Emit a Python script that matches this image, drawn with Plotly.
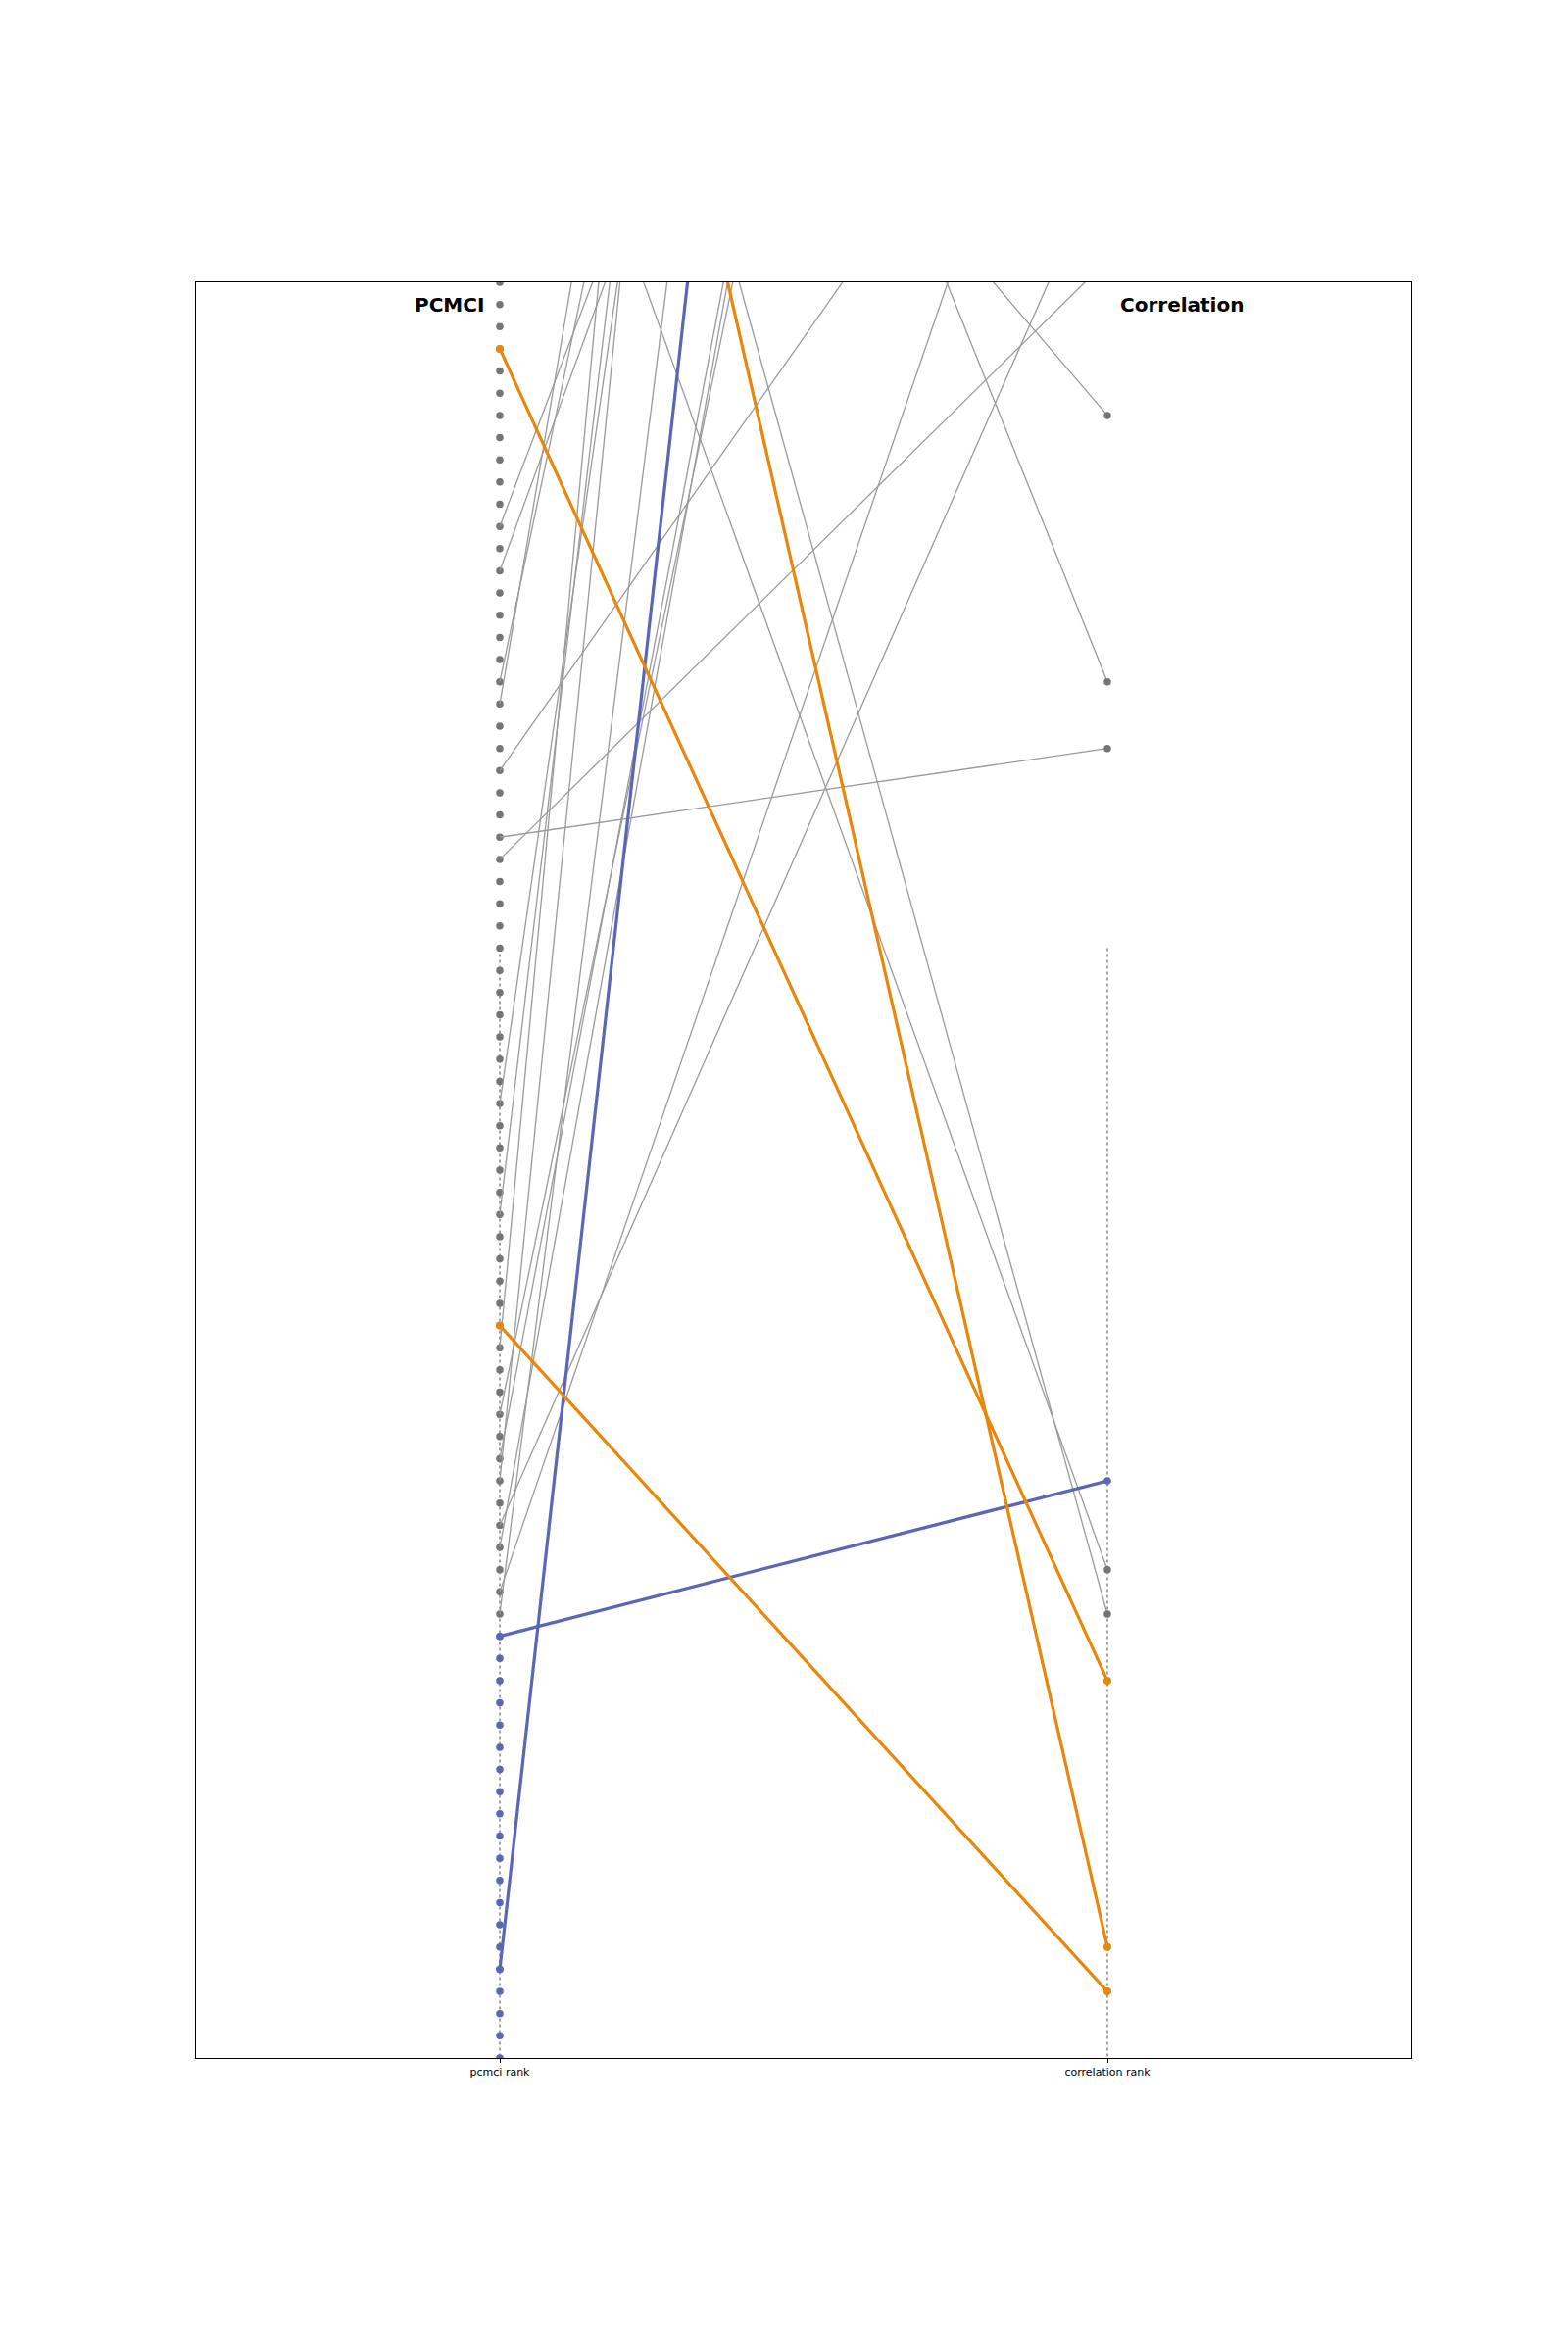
import plotly.graph_objects as go

# ---- data (ranks; y axis reversed, only ranks 260..340 visible) ----
# all pcmci rank positions visible on the left column
gray_left_ranks = list(range(260, 321))
blue_left_ranks = list(range(321, 341))

# gray links: pcmci rank -> correlation rank
gray_pcmci = [271, 273, 278, 279, 282, 285, 286, 297, 302, 308, 311, 313, 314,
              316, 317, 319, 320, 234, 210, 242, 221]
gray_corr = [199, 198, 148, 118, 243, 281, 259, 106, 70, 13, 178, 169, 41,
             254, 165, 239, 102, 266, 278, 318, 320]

# orange links
orange_pcmci = [263, 307, 215]
orange_corr = [323, 337, 335]

# blue links
blue_pcmci = [321, 336]
blue_corr = [314, 90]

# dotted guide lines (rank span)
guide_span = [290, 340]

x_labels = ["pcmci rank", "correlation rank"]
titles = ["PCMCI", "Correlation"]

GRAY_LINE = "#9a9a9a"
GRAY_DOT = "#757575"
ORANGE = "#e8870a"
BLUE = "#5a66b6"


def seg(p_list, c_list):
    xs, ys = [], []
    for p, c in zip(p_list, c_list):
        xs += [0, 1, None]
        ys += [p, c, None]
    return xs, ys


fig = go.Figure()

# dotted guides
for xv in (0, 1):
    fig.add_trace(go.Scatter(x=[xv, xv], y=guide_span, mode="lines",
                             line=dict(color="#444444", width=1, dash="dot"),
                             hoverinfo="skip", showlegend=False))

# left column dots
fig.add_trace(go.Scatter(x=[0] * len(gray_left_ranks), y=gray_left_ranks, mode="markers",
                         marker=dict(color=GRAY_DOT, size=7.5), showlegend=False))
fig.add_trace(go.Scatter(x=[0] * len(blue_left_ranks), y=blue_left_ranks, mode="markers",
                         marker=dict(color=BLUE, size=7.5), showlegend=False))

# gray links
gx, gy = seg(gray_pcmci, gray_corr)
fig.add_trace(go.Scatter(x=gx, y=gy, mode="lines",
                         line=dict(color=GRAY_LINE, width=1.3), showlegend=False))
fig.add_trace(go.Scatter(x=[1] * len(gray_corr), y=gray_corr, mode="markers",
                         marker=dict(color=GRAY_DOT, size=7.5), showlegend=False))

# blue links
bx, by = seg(blue_pcmci, blue_corr)
fig.add_trace(go.Scatter(x=bx, y=by, mode="lines",
                         line=dict(color=BLUE, width=3.2), showlegend=False))
fig.add_trace(go.Scatter(x=[0] * len(blue_pcmci) + [1] * len(blue_corr),
                         y=blue_pcmci + blue_corr, mode="markers",
                         marker=dict(color=BLUE, size=7.5), showlegend=False))

# orange links
ox, oy = seg(orange_pcmci, orange_corr)
fig.add_trace(go.Scatter(x=ox, y=oy, mode="lines",
                         line=dict(color=ORANGE, width=3.2), showlegend=False))
fig.add_trace(go.Scatter(x=[0] * len(orange_pcmci) + [1] * len(orange_corr),
                         y=orange_pcmci + orange_corr, mode="markers",
                         marker=dict(color=ORANGE, size=8), showlegend=False))

fig.add_annotation(x=-0.022, y=261, xref="x", yref="y", text="<b>" + titles[0] + "</b>",
                   showarrow=False, xanchor="right", yanchor="middle",
                   font=dict(family="DejaVu Sans", size=20, color="black"))
fig.add_annotation(x=1.018, y=261, xref="x", yref="y", text="<b>" + titles[1] + "</b>",
                   showarrow=False, xanchor="left", yanchor="middle",
                   font=dict(family="DejaVu Sans", size=20, color="black"))

fig.update_layout(
    width=1600, height=2400,
    margin=dict(l=200, r=160, t=288, b=300),
    paper_bgcolor="white", plot_bgcolor="white",
    font=dict(family="DejaVu Sans", color="black"),
    xaxis=dict(range=[-0.5, 1.5], tickvals=[0, 1], ticktext=x_labels,
               ticks="outside", ticklen=4, tickcolor="black", tickwidth=1,
               tickfont=dict(size=11, family="DejaVu Sans", color="black"),
               showline=True, linecolor="black", linewidth=1, mirror=True,
               showgrid=False, zeroline=False),
    yaxis=dict(range=[340, 260], showticklabels=False, ticks="",
               showline=True, linecolor="black", linewidth=1, mirror=True,
               showgrid=False, zeroline=False),
)

fig.write_html("out.html")
